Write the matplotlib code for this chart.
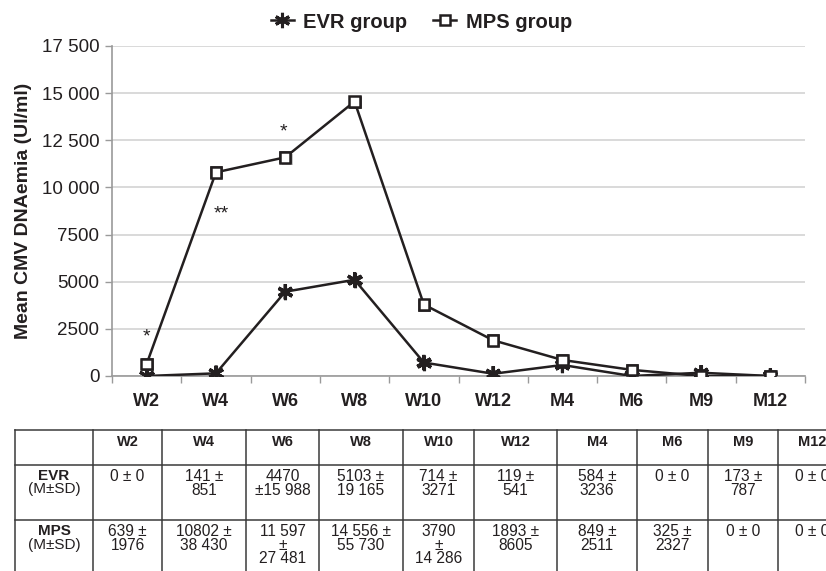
import matplotlib
matplotlib.use("Agg")
import matplotlib.pyplot as plt
import matplotlib.patheffects as pe
from matplotlib.ticker import FixedLocator, FuncFormatter

plt.rcParams['font.family'] = ['Liberation Sans', 'DejaVu Sans']

# ---- data -------------------------------------------------------------
categories = ['W2', 'W4', 'W6', 'W8', 'W10', 'W12', 'M4', 'M6', 'M9', 'M12']
evr_mean = [0, 141, 4470, 5103, 714, 119, 584, 0, 173, 0]
mps_mean = [639, 10802, 11597, 14556, 3790, 1893, 849, 325, 0, 0]

evr_cells = ['0 ± 0', '141 ±\n851', '4470\n±15 988', '5103 ±\n19 165',
             '714 ±\n3271', '119 ±\n541', '584 ±\n3236', '0 ± 0',
             '173 ±\n787', '0 ± 0']
mps_cells = ['639 ±\n1976', '10802 ±\n38 430', '11 597\n±\n27 481',
             '14 556 ±\n55 730', '3790\n±\n14 286', '1893 ±\n8605',
             '849 ±\n2511', '325 ±\n2327', '0 ± 0', '0 ± 0']
row_titles = ['EVR', 'MPS']
row_units = '(M±SD)'

# significance flags on the MPS curve: (category, label, pixel offset)
sig_marks = [('W2', '*', (0, 27)), ('W4', '**', (5, -42)), ('W6', '*', (-2, 25))]

y_ticks = [0, 2500, 5000, 7500, 10000, 12500, 15000, 17500]

INK = '#231f20'
W, H = 826, 571

fig = plt.figure(figsize=(W / 100, H / 100), dpi=100)
ax = fig.add_axes([112 / W, 1 - 376 / H, (805 - 112) / W, (376 - 46) / H])

x = list(range(len(categories)))
shadow = [pe.SimplePatchShadow(offset=(1.5, -1.5), alpha=0.3, shadow_rgbFace='#444444'),
          pe.Normal()]

evr_style = dict(marker=(6, 2, 0), ms=11, mew=2.2, mec=INK)
mps_style = dict(marker='s', ms=7.5, mfc='white', mec=INK, mew=1.8)

l_evr, = ax.plot(x, evr_mean, color=INK, lw=1.8, label='EVR group', zorder=3,
                 **evr_style)
l_mps, = ax.plot(x, mps_mean, color=INK, lw=1.8, label='MPS group', zorder=4,
                 **mps_style)
# soft drop shadow under the markers
ax.plot(x, evr_mean, ls='none', zorder=3.5, path_effects=shadow, **evr_style)
ax.plot(x, mps_mean, ls='none', zorder=4.5, path_effects=shadow, **mps_style)

for cat, txt, off in sig_marks:
    i = categories.index(cat)
    ax.annotate(txt, (i, mps_mean[i]), xytext=off, textcoords='offset pixels',
                ha='center', va='center', fontsize=14, color=INK)

ax.set_xlim(-0.5, len(categories) - 0.5)
ax.set_ylim(0, 17500)

ax.yaxis.set_major_locator(FixedLocator(y_ticks))
ax.yaxis.set_major_formatter(FuncFormatter(
    lambda v, p: f"{int(v):,}".replace(',', ' ') if v >= 10000 else f"{int(v)}"))
ax.grid(axis='y', color='#d9d9d9', lw=1.4)
ax.set_axisbelow(True)

ax.set_xticks(x)
ax.set_xticklabels(categories, fontsize=13, fontweight='bold', color=INK)
ax.set_xticks([i - 0.5 for i in range(len(categories) + 1)], minor=True)
ax.tick_params(axis='x', which='major', length=0, pad=12)
ax.tick_params(axis='x', which='minor', length=5, width=1, color='#9a9a9a', direction='out')
ax.tick_params(axis='y', length=5, width=1, color='#9a9a9a', labelsize=13.5,
               labelcolor=INK, pad=4)

for s in ['top', 'right']:
    ax.spines[s].set_visible(False)
for s in ['left', 'bottom']:
    ax.spines[s].set_color('#9a9a9a')
    ax.spines[s].set_linewidth(1.2)

ax.set_ylabel('Mean CMV DNAemia (UI/ml)', fontsize=14, fontweight='bold',
              color=INK, labelpad=7)

fig.legend(handles=[l_evr, l_mps], loc='center', bbox_to_anchor=(0.510, 1 - 22 / H),
           ncol=2, frameon=False, handlelength=1.15,
           handletextpad=0.45, columnspacing=1.3,
           prop={'weight': 'bold', 'size': 14.5})
for t in fig.legends[0].get_texts():
    t.set_color(INK)

# ---- summary table drawn beneath the chart -----------------------------
tab = fig.add_axes([0, 0, 1, 1])
tab.set_xlim(0, W)
tab.set_ylim(H, 0)
tab.axis('off')

col_edges = [15, 93, 162, 246, 319, 403, 474, 557, 637, 708, 778, 846]
row_edges = [430, 465, 520, 580]
lc = '#3a3a3a'
for xe in col_edges:
    tab.plot([xe, xe], [row_edges[0], row_edges[-1]], color=lc, lw=1.1, clip_on=False)
for ye in row_edges:
    tab.plot([col_edges[0], col_edges[-1]], [ye, ye], color=lc, lw=1.1, clip_on=False)

centers = [(col_edges[i] + col_edges[i + 1]) / 2 for i in range(len(col_edges) - 1)]
for j, cat in enumerate(categories):
    tab.text(centers[j + 1], 442, cat, ha='center', va='center', fontsize=10.5,
             fontweight='bold', color=INK)

for r, (title, cells) in enumerate(zip(row_titles, [evr_cells, mps_cells])):
    top = row_edges[r + 1] + 4
    tab.text(centers[0], top, title, ha='center', va='top', fontsize=11,
             fontweight='bold', color=INK)
    tab.text(centers[0], top + 13.5, row_units, ha='center', va='top', fontsize=11,
             color=INK)
    for j, c in enumerate(cells):
        tab.text(centers[j + 1], top, c, ha='center', va='top', fontsize=11.2,
                 color=INK, linespacing=0.88)

fig.savefig('out.png', dpi=100)
